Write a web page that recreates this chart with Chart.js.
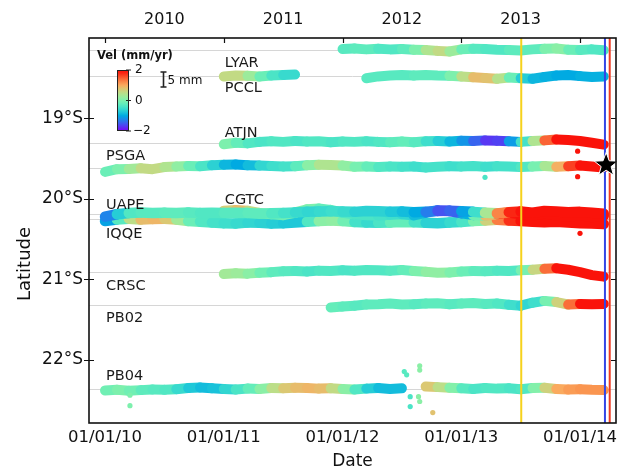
<!DOCTYPE html>
<html><head><meta charset="utf-8">
<script src="https://cdn.jsdelivr.net/npm/chart.js@4.4.1/dist/chart.umd.min.js"></script>
<style>html,body{margin:0;padding:0;background:#fff;}canvas{display:block;}</style>
</head><body>
<canvas id="c" width="628" height="471"></canvas>
<script>
// ---------- axis data ----------
const years = [2010, 2011, 2012, 2013, 2014];
const yearLabels = ['01/01/10', '01/01/11', '01/01/12', '01/01/13', '01/01/14'];
const topYears = [2010, 2011, 2012, 2013];
const latTicks = [-19, -20, -21, -22];
const latTickLabels = ['19°S', '20°S', '21°S', '22°S'];

// ---------- stations ----------
const stationNames = ['LYAR', 'PCCL', 'ATJN', 'PSGA', 'UAPE', 'CGTC', 'IQQE', 'CRSC', 'PB02', 'PB04'];
const stationLat   = [-18.149, -18.478, -19.311, -19.621, -20.193, -20.19, -20.255, -20.913, -21.323, -22.366];
const stationStart = [2012.0, 2011.0, 2011.0, 2010.0, 2010.0, 2011.0, 2010.0, 2011.0, 2011.9, 2010.0];
const sampleStep = 0.1; // years between samples

// north displacement (mm) and velocity (mm/yr) per sample
const lyarNorth = [0.3,0.5,0.2,0.4,0.2,0.3,0.1,0.0,-0.3,-0.5,0.2,0.4,0.3,0.1,0.0,-0.2,0.2,0.4,0.5,0.1,0.0,0.2,-0.1];
const lyarVel   = [-0.3,-0.3,-0.2,-0.3,-0.4,-0.3,-0.2,0.2,0.6,0.5,0.0,-0.3,-0.3,-0.4,-0.3,-0.2,-0.3,-0.2,0.2,0.0,-0.3,-0.3,-0.4];
const pcclNorth = [0.0,0.3,0.2,0.0,0.3,0.5,0.6,null,null,null,null,null,-0.6,0.0,0.3,0.5,0.3,0.5,0.3,0.2,0.0,-0.3,-0.5,-0.8,-0.4,-0.6,-0.8,-0.2,0.3,0.5,0.1,-0.2,0.0];
const pcclVel   = [0.5,0.6,0.5,0.0,-0.3,-0.5,-0.6,null,null,null,null,null,-0.3,-0.3,-0.3,-0.3,-0.3,-0.2,-0.3,-0.2,0.2,0.8,0.9,0.7,0.2,-0.5,-0.9,-0.9,-1.0,-1.0,-1.0,-0.9,-1.0];
const atjnNorth = [-0.3,0.2,0.0,0.5,0.7,0.5,0.8,0.6,0.7,0.4,0.6,0.5,0.7,0.5,0.4,0.6,0.4,0.7,0.8,0.6,0.9,0.8,1.0,0.9,0.7,0.5,0.8,1.0,1.3,1.1,0.8,0.2,-0.4];
const atjnVel   = [0.1,-0.1,-0.3,-0.4,-0.4,-0.3,-0.4,-0.4,-0.3,-0.4,-0.4,-0.3,-0.4,-0.4,-0.3,-0.2,-0.2,-0.4,-0.6,-0.8,-1.0,-1.3,-1.6,-1.8,-1.5,-0.7,-0.2,1.0,1.9,2.0,2.0,2.0,2.0];
const psgaNorth = [-1.2,-0.3,-0.2,0.0,-0.3,0.4,0.6,0.8,0.7,1.0,1.2,1.3,1.0,0.9,0.8,0.6,0.7,1.0,1.2,1.1,0.9,0.5,0.6,0.4,0.6,0.5,0.6,0.3,0.5,0.7,0.6,0.8,0.5,0.7,0.6,0.4,0.6,0.8,0.5,0.7,0.9,0.6,0.3];
const psgaVel   = [-0.2,-0.1,0.1,0.5,0.6,0.5,0.3,0.0,-0.3,-0.5,-0.8,-1.0,-1.0,-0.7,-0.5,-0.5,-0.4,-0.1,0.3,0.5,0.3,0.0,-0.1,-0.3,-0.4,-0.4,-0.5,-0.5,-0.4,-0.5,-0.5,-0.4,-0.5,-0.5,-0.4,-0.5,-0.2,0.1,0.6,1.3,2.0,2.0,2.0];
const uapeNorth = [-0.8,0.0,0.4,0.6,0.4,0.5,0.4,0.6,0.4,0.5,0.4,0.5,0.4,0.2,0.3,0.4,0.6,0.8,0.9,1.0,0.9,0.8,1.1,1.0,0.8,0.9,0.7,0.8,1.1,1.2,1.0,0.8,0.5,0.3,0.7,0.9,0.5,1.1,0.9,0.7,0.8,0.5,0.2];
const uapeVel   = [-1.5,-1.0,-0.4,-0.3,-0.3,-0.3,-0.2,-0.3,-0.3,-0.4,-0.3,-0.3,-0.3,-0.2,-0.3,-0.4,-0.5,-0.6,-0.6,-0.5,-0.5,-0.6,-0.7,-0.6,-0.7,-0.8,-0.9,-1.1,-1.5,-1.6,-1.3,-0.8,-0.2,0.9,1.6,2.0,2.0,2.0,2.0,2.0,2.0,2.0,2.0];
const cgtcNorth = [1.0,1.3,1.0,0.3,0.0,-0.3,0.5,1.5,1.8,1.3,0.5,0.0,-0.3,-0.5,-0.2,0.0,-0.4,0.5,1.2,1.0,0.3,-0.3,-0.5,0.0,0.5,0.0,-0.5,0.2,-0.4,-0.8,-0.3,-1.0,-0.6];
const cgtcVel   = [0.5,0.9,0.8,0.3,-0.1,-0.2,0.0,0.1,-0.1,-0.3,-0.3,-0.4,-0.4,-0.4,-0.5,-0.5,-0.7,-1.0,-1.4,-1.7,-1.3,-0.6,0.4,1.3,1.9,2.0,2.0,2.0,2.0,2.0,2.0,2.0,2.0];
const iqqeNorth = [-0.6,-0.1,0.2,-0.1,0.1,0.2,-0.1,-0.6,-0.8,-1.1,-1.3,-1.4,-1.1,-1.2,-1.4,-1.3,-1.1,-0.8,-0.6,-0.4,-0.6,-0.9,-1.1,-1.2,-1.1,-0.9,-1.0,-1.2,-1.3,-1.1,-0.9,-0.6,-0.4,-0.2,-0.4,-0.6,-0.8,-1.0,-0.8,-1.1,-1.3,-1.4,-1.6];
const iqqeVel   = [-1.3,-0.8,0.2,0.8,0.9,0.9,0.6,0.0,-0.3,-0.4,-0.5,-0.5,-0.6,-0.6,-0.7,-0.7,-0.8,-0.7,0.0,0.2,0.1,-0.3,-0.6,-0.5,-0.3,-0.1,-0.3,-0.6,-0.7,-0.6,-0.5,-0.3,0.3,1.0,1.6,1.9,2.0,2.0,2.0,2.0,2.0,2.0,2.0];
const crscNorth = [-0.6,-0.4,-0.5,-0.2,0.0,0.3,0.4,0.2,0.5,0.4,0.6,0.5,0.7,0.6,0.5,0.7,0.4,0.1,-0.2,-0.1,0.2,0.4,0.3,0.5,0.4,0.6,0.8,1.1,1.3,0.8,0.0,-1.0,-1.5];
const crscVel   = [0.3,0.3,0.2,0.0,-0.2,-0.3,-0.3,-0.4,-0.4,-0.3,-0.4,-0.4,-0.3,-0.4,-0.3,-0.3,-0.1,0.1,0.2,0.1,-0.1,-0.2,-0.3,-0.3,-0.4,-0.3,0.2,1.0,1.8,2.0,2.0,2.0,2.0];
const pb02North = [-0.8,-0.5,-0.2,0.2,0.3,0.5,0.2,0.3,0.5,0.6,0.3,0.5,0.7,0.4,0.5,0.1,-0.2,0.8,1.4,1.0,0.2,0.4,0.3,0.4];
const pb02Vel   = [-0.2,-0.2,-0.3,-0.3,-0.2,-0.3,-0.2,-0.3,-0.3,-0.2,-0.3,-0.3,-0.2,-0.3,-0.3,-0.4,-0.6,-0.6,-0.4,0.3,1.0,1.8,2.0,2.0];
const pb04North = [-0.5,-0.3,-0.6,-0.4,-0.2,-0.3,-0.1,0.3,0.5,0.2,0.0,-0.2,0.1,0.0,0.3,0.2,0.4,0.3,0.1,0.2,0.0,-0.2,0.1,0.3,0.0,0.2,null,0.8,0.6,0.4,0.2,0.0,0.3,0.1,0.2,-0.1,0.3,0.4,0.0,-0.2,-0.1,-0.3,-0.4];
const pb04Vel   = [-0.2,0.0,0.0,-0.2,-0.3,-0.3,-0.4,-0.7,-0.8,-0.9,-0.7,-0.5,-0.3,-0.1,0.3,0.7,0.8,0.9,0.9,0.8,0.3,-0.1,-0.6,-0.8,-0.9,-0.8,null,0.8,0.7,0.3,-0.2,-0.4,-0.4,-0.3,-0.4,-0.4,-0.3,0.4,0.9,1.1,1.1,1.2,1.1];

// isolated outlying daily solutions
const outStation = ['PB04','PB04','PB04','PB04','PB04','PB04','PB04','PB04','PB04','PB04','PB04','ATJN','PSGA','PSGA','IQQE'];
const outTime    = [2010.21,2010.21,2012.52,2012.54,2012.65,2012.65,2012.57,2012.57,2012.64,2012.65,2012.76,2013.98,2013.98,2013.2,2014.0];
const outNorth   = [-2.1,-5.6,5.8,4.7,7.7,6.3,-2.6,-5.9,-2.6,-4.2,-7.9,-2.6,-2.8,-3.0,-4.7];
const outVel     = [0.0,0.0,-0.3,-0.3,0.1,0.1,-0.4,-0.4,0.1,0.1,0.8,2.0,2.0,-0.4,2.0];

// events
const eventTimes  = [2013.505, 2014.21, 2014.25];
const eventColors = ['#f6d21c', '#3346e6', '#ee3a22'];
const quakeTime = 2014.22, quakeLat = -19.58;

// colour bar
const velMin = -2, velMax = 2;
const cbTicks = [2, 0, -2];
const cbTickLabels = ['2', '0', '\u22122'];
const scaleBarMM = 5;

const stationNorth = [lyarNorth, pcclNorth, atjnNorth, psgaNorth, uapeNorth, cgtcNorth, iqqeNorth, crscNorth, pb02North, pb04North];
const stationVel   = [lyarVel, pcclVel, atjnVel, psgaVel, uapeVel, cgtcVel, iqqeVel, crscVel, pb02Vel, pb04Vel];

// ---------- style ----------
const mmDeg = 3 / 80.5;          // plotted displacement scale (deg per mm)
const labelYear = [2011, 2011, 2011, 2010, 2010, 2011, 2010, 2010, 2010, 2010];
const labelDy   = [13.5, 12, -10.5, -12, -9, -14, 15, 14, 13, -12.5];
const FONT = "'DejaVu Sans', sans-serif";

function rainbow(v) {
  let x = (v - velMin) / (velMax - velMin);
  x = Math.max(0, Math.min(0.975, x));
  const r = Math.min(1, Math.abs(2 * x - 0.5));
  const g = Math.max(0, Math.sin(Math.PI * x));
  const b = Math.max(0, Math.cos(Math.PI * x / 2));
  return `rgb(${Math.round(r * 250)},${Math.round(g * 240)},${Math.round(b * 245)})`;
}

const datasets = [];
stationNames.forEach((name, k) => {
  const off = stationNorth[k], vel = stationVel[k];
  const pts = off.map((o, i) => ({
    x: +(stationStart[k] + i * sampleStep).toFixed(2),
    y: o == null ? null : stationLat[k] + o * mmDeg
  }));
  const wide = (name === 'UAPE' || name === 'IQQE' || name === 'CGTC');
  datasets.push({
    type: 'line', label: name, data: pts, xAxisID: 'x', yAxisID: 'y',
    borderWidth: wide ? 10.5 : 10, borderCapStyle: 'round', borderJoinStyle: 'round',
    pointRadius: 0, tension: 0, spanGaps: false, fill: false, order: 1,
    borderColor: rainbow(vel[0]),
    segment: { borderColor: c => rainbow(((vel[c.p0DataIndex] ?? 0) + (vel[c.p1DataIndex] ?? 0)) / 2) }
  });
});
datasets.push({
  type: 'scatter', label: 'outliers', xAxisID: 'x', yAxisID: 'y', order: 0,
  data: outTime.map((t, i) => ({ x: t, y: stationLat[stationNames.indexOf(outStation[i])] + outNorth[i] * mmDeg })),
  pointRadius: 2.6, pointBorderWidth: 0,
  pointBackgroundColor: outVel.map(v => rainbow(v))
});

function drawStar(ctx, cx, cy, R, r) {
  ctx.beginPath();
  for (let i = 0; i < 10; i++) {
    const ang = -Math.PI / 2 + i * Math.PI / 5;
    const rad = i % 2 ? r : R;
    ctx.lineTo(cx + rad * Math.cos(ang), cy + rad * Math.sin(ang));
  }
  ctx.closePath();
}

const decor = {
  id: 'decor',
  beforeDatasetsDraw(chart) {
    const { ctx, chartArea: a, scales: { y } } = chart;
    ctx.save();
    ctx.strokeStyle = '#d6d6d6'; ctx.lineWidth = 1;
    stationLat.forEach(l => {
      const py = Math.round(y.getPixelForValue(l)) + 0.5;
      ctx.beginPath(); ctx.moveTo(a.left, py); ctx.lineTo(a.right, py); ctx.stroke();
    });
    ctx.restore();
  },
  afterDatasetsDraw(chart) {
    const { ctx, chartArea: a, scales: { x, y } } = chart;
    ctx.save();
    // event lines
    eventTimes.forEach((t, i) => {
      const px = x.getPixelForValue(t);
      ctx.strokeStyle = eventColors[i]; ctx.lineWidth = 2;
      ctx.beginPath(); ctx.moveTo(px, a.top); ctx.lineTo(px, a.bottom); ctx.stroke();
    });
    // star
    drawStar(ctx, x.getPixelForValue(quakeTime), y.getPixelForValue(quakeLat), 12.5, 5.2);
    ctx.fillStyle = '#000'; ctx.fill();
    ctx.strokeStyle = '#fff'; ctx.lineWidth = 1; ctx.stroke();

    // frame
    ctx.strokeStyle = '#111'; ctx.lineWidth = 1.6;
    ctx.strokeRect(a.left, a.top, a.right - a.left, a.bottom - a.top);
    ctx.lineWidth = 1.2;
    ctx.beginPath();
    years.forEach(v => {
      const px = Math.round(x.getPixelForValue(v)) + 0.5;
      ctx.moveTo(px, a.top); ctx.lineTo(px, a.top + 5);
    });
    latTicks.forEach(v => {
      const py = Math.round(y.getPixelForValue(v)) + 0.5;
      ctx.moveTo(a.left - 5, py); ctx.lineTo(a.left + 5, py);
      ctx.moveTo(a.right - 5, py); ctx.lineTo(a.right, py);
    });
    ctx.stroke();

    // station labels
    ctx.fillStyle = '#1a1a1a';
    ctx.font = `14.5px ${FONT}`;
    ctx.textAlign = 'left'; ctx.textBaseline = 'middle';
    stationNames.forEach((n, k) => {
      ctx.fillText(n, x.getPixelForValue(labelYear[k]) + 1, y.getPixelForValue(stationLat[k]) + labelDy[k]);
    });

    // colour bar
    const cbX = a.left + 28, cbY = a.top + 32, cbW = 12, cbH = 61;
    const grad = ctx.createLinearGradient(0, cbY + cbH, 0, cbY);
    for (let i = 0; i <= 20; i++) grad.addColorStop(i / 20, rainbow(velMin + (velMax - velMin) * i / 20));
    ctx.fillStyle = grad; ctx.fillRect(cbX, cbY, cbW, cbH);
    ctx.strokeStyle = '#222'; ctx.lineWidth = 1;
    ctx.strokeRect(cbX + 0.5, cbY + 0.5, cbW - 1, cbH - 1);
    ctx.font = `bold 11.5px ${FONT}`; ctx.fillStyle = '#111';
    ctx.fillText('Vel (mm/yr)', a.left + 8, a.top + 18);
    ctx.font = `12px ${FONT}`;
    cbTicks.forEach((v, i) => {
      const py = cbY + cbH - (v - velMin) / (velMax - velMin) * cbH;
      ctx.beginPath(); ctx.moveTo(cbX + cbW - 3, py); ctx.lineTo(cbX + cbW + 2, py); ctx.stroke();
      ctx.fillText(cbTickLabels[i], cbX + cbW + (v < 0 ? 4 : 6), py);
    });
    // scale bar (5 mm)
    const sbX = a.left + 74.5;
    const sbTop = a.top + 34;
    const sbBot = sbTop + Math.abs(y.getPixelForValue(-20) - y.getPixelForValue(-20 + scaleBarMM * mmDeg));
    ctx.lineWidth = 1.6;
    ctx.beginPath();
    ctx.moveTo(sbX, sbTop); ctx.lineTo(sbX, sbBot);
    ctx.moveTo(sbX - 3, sbTop); ctx.lineTo(sbX + 3, sbTop);
    ctx.moveTo(sbX - 3, sbBot); ctx.lineTo(sbX + 3, sbBot);
    ctx.stroke();
    ctx.fillText(scaleBarMM + ' mm', sbX + 4, (sbTop + sbBot) / 2 + 1);

    // axis titles
    ctx.font = `17px ${FONT}`; ctx.textAlign = 'center';
    ctx.fillText('Date', (a.left + a.right) / 2, 462);
    ctx.translate(25, 264); ctx.rotate(-Math.PI / 2);
    ctx.font = `18px ${FONT}`;
    ctx.fillText('Latitude', 0, 0);
    ctx.restore();
  }
};

Chart.defaults.font.family = FONT;
Chart.defaults.color = '#111';

new Chart(document.getElementById('c'), {
  data: { datasets },
  options: {
    responsive: false, animation: false,
    layout: { padding: { left: 0, right: 12, top: 0, bottom: 0 } },
    plugins: { legend: { display: false }, tooltip: { enabled: false } },
    scales: {
      x: {
        type: 'linear', position: 'bottom', min: 2009.865, max: 2014.303,
        afterBuildTicks: s => { s.ticks = years.map(v => ({ value: v })); },
        ticks: { callback: (v, i) => yearLabels[i], font: { size: 16.5 }, padding: 5, maxRotation: 0, autoSkip: false },
        grid: { display: false, drawTicks: false }, border: { display: false },
        afterFit: s => { s.height = 48; }
      },
      xTop: {
        type: 'linear', position: 'top', min: 2009.865, max: 2014.303,
        afterBuildTicks: s => { s.ticks = topYears.map(v => ({ value: v + 0.5 })); },
        ticks: { callback: (v, i) => String(topYears[i]), font: { size: 16 }, padding: 9, maxRotation: 0, autoSkip: false },
        grid: { display: false, drawTicks: false }, border: { display: false },
        afterFit: s => { s.height = 38; }
      },
      y: {
        type: 'linear', position: 'left', min: -22.79, max: -18.0,
        afterBuildTicks: s => { s.ticks = latTicks.map(v => ({ value: v })); },
        ticks: { callback: (v, i) => latTickLabels[i], font: { size: 17 }, padding: 6, autoSkip: false },
        grid: { display: false, drawTicks: false }, border: { display: false },
        afterFit: s => { s.height; s.width = 89; }
      }
    }
  },
  plugins: [decor]
});
</script>
</body></html>
